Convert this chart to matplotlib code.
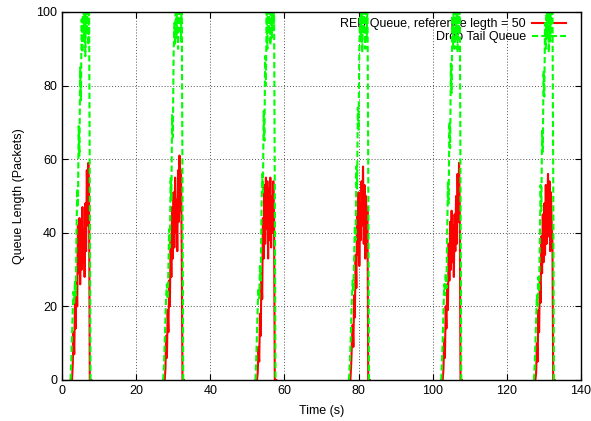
import numpy as np
import matplotlib.pyplot as plt

plt.rcParams['font.family'] = ['Liberation Sans', 'DejaVu Sans']

# burst start times (s) and sample offsets inside a burst (s)
burst_starts = [2.3, 27.3, 52.2, 77.4, 102.3, 127.3]
offsets = [0.0, 0.2, 0.4, 0.6, 0.8, 1.0, 1.2, 1.4, 1.6, 1.8,
           2.0, 2.2, 2.4, 2.6, 2.8, 3.0, 3.2, 3.4, 3.6, 3.8,
           4.0, 4.2, 4.4, 4.6, 4.8, 5.0, 5.2, 5.4, 5.6]

# Drop Tail queue length per burst
droptail = [
    [0, 5, 12, 19, 24, 21, 27, 23, 39, 52, 47, 69, 61, 85, 76, 98, 89, 108, 92, 106, 88, 109, 94, 107, 91, 104, 50, 0, 0],
    [0, 4, 10, 17, 23, 26, 22, 30, 41, 36, 55, 49, 72, 66, 88, 97, 91, 107, 93, 109, 90, 106, 95, 108, 92, 105, 55, 0, 0],
    [0, 6, 13, 20, 25, 22, 31, 27, 44, 56, 51, 73, 65, 88, 80, 100, 90, 107, 94, 108, 91, 105, 93, 109, 95, 103, 48, 0, 0],
    [0, 4, 9, 16, 22, 27, 24, 33, 42, 38, 58, 52, 74, 68, 90, 99, 92, 109, 89, 106, 94, 108, 90, 107, 93, 104, 58, 0, 0],
    [0, 5, 11, 18, 26, 23, 29, 25, 40, 54, 48, 70, 63, 86, 78, 99, 91, 106, 90, 108, 93, 107, 89, 109, 94, 105, 52, 0, 0],
    [0, 4, 10, 17, 23, 20, 28, 24, 38, 53, 46, 68, 62, 84, 77, 97, 90, 108, 93, 107, 89, 109, 92, 106, 95, 104, 57, 0, 0],
]

# RED queue length per burst
red_queue = [
    [0, 0, 0, 4, 13, 7, 21, 14, 28, 20, 42, 29, 44, 26, 43, 30, 47, 32, 41, 28, 48, 35, 57, 42, 59, 50, 0, 0, 0],
    [0, 0, 0, 3, 12, 6, 19, 13, 27, 20, 39, 28, 47, 33, 51, 36, 55, 40, 49, 35, 57, 43, 61, 46, 57, 34, 0, 0, 0],
    [0, 0, 0, 2, 9, 5, 18, 12, 29, 22, 44, 33, 53, 37, 55, 41, 54, 33, 52, 38, 55, 36, 50, 40, 54, 44, 0, 0, 0],
    [0, 0, 0, 4, 10, 15, 9, 23, 17, 34, 25, 45, 34, 51, 31, 48, 38, 54, 42, 58, 37, 53, 33, 50, 40, 47, 0, 0, 0],
    [0, 0, 0, 3, 11, 6, 20, 14, 26, 19, 37, 27, 43, 30, 46, 32, 42, 28, 45, 35, 50, 37, 56, 43, 59, 47, 0, 0, 0],
    [0, 0, 0, 2, 10, 5, 19, 13, 28, 21, 39, 29, 45, 32, 48, 34, 53, 37, 47, 56, 39, 54, 35, 51, 42, 37, 0, 0, 0],
]


def build_series(bursts):
    # queue sits empty between bursts (hidden under the x axis), so split there
    t, q = [], []
    for start, vals in zip(burst_starts, bursts):
        t.extend(start + o for o in offsets)
        q.extend(vals)
        t.append(np.nan)
        q.append(np.nan)
    return np.array(t), np.array(q)


t_red, q_red = build_series(red_queue)
t_dt, q_dt = build_series(droptail)

fig = plt.figure(figsize=(5.91, 4.21), dpi=100)
ax = fig.add_axes([62 / 591, 1 - 380 / 421, (581 - 62) / 591, (380 - 12) / 421])

ax.plot(t_red, q_red, color='#ff0000', lw=1.5, zorder=3,
        label='RED Queue, reference legth = 50')
ax.plot(t_dt, q_dt, color='#00ff00', lw=1.5, ls=(0, (3, 1.5)), zorder=4,
        label='Drop Tail Queue')

ax.set_xlim(0, 140)
ax.set_ylim(0, 100)
ax.set_xticks(np.arange(0, 141, 20))
ax.set_yticks(np.arange(0, 101, 20))
ax.grid(True, color='#555555', ls=(0, (1, 2)), lw=0.7)
ax.tick_params(direction='in', length=4, top=True, right=True, labelsize=9)
for s in ax.spines.values():
    s.set_linewidth(1.0)
    s.set_zorder(5)

ax.set_xlabel('Time (s)', fontsize=9, labelpad=6)
ax.set_ylabel('Queue Length (Packets)', fontsize=9, labelpad=8)

leg = ax.legend(loc='upper right', bbox_to_anchor=(1 - 15 / 519, 1 - 6 / 368),
                frameon=False, markerfirst=False, fontsize=9,
                handlelength=2.7, handletextpad=0.5, labelspacing=0.1,
                borderaxespad=0, borderpad=0)
leg.set_zorder(2)

fig.savefig('out.png', dpi=100)
